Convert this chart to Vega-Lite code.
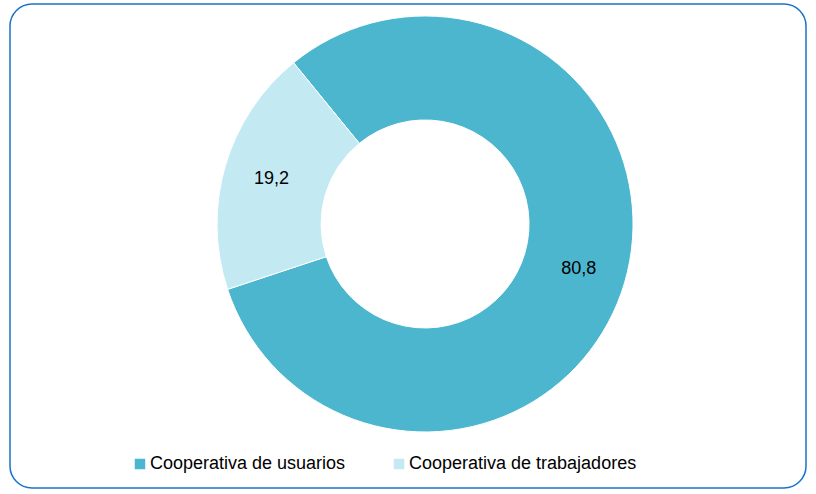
{
  "$schema": "https://vega.github.io/schema/vega-lite/v6.json",
  "width": 796,
  "height": 484,
  "autosize": {"type": "none"},
  "padding": {"left": 10, "top": 4, "right": 10, "bottom": 6},
  "background": "white",
  "config": {
    "view": {"stroke": "#1A73C8", "strokeWidth": 1.5, "cornerRadius": 22},
    "font": "Liberation Sans"
  },
  "data": {
    "values": [
      {"tipo": "Cooperativa de usuarios", "valor": 80.8, "etiqueta": "80,8", "orden": 1},
      {"tipo": "Cooperativa de trabajadores", "valor": 19.2, "etiqueta": "19,2", "orden": 2}
    ]
  },
  "encoding": {
    "theta": {"field": "valor", "type": "quantitative", "stack": true, "scale": {"range": [-0.684, 5.599]}},
    "order": {"field": "orden", "type": "quantitative"},
    "x": {"datum": 0.5214, "type": "quantitative", "scale": {"domain": [0, 1]}, "axis": null},
    "y": {"datum": 0.5455, "type": "quantitative", "scale": {"domain": [0, 1]}, "axis": null}
  },
  "layer": [
    {
      "mark": {"type": "arc", "outerRadius": 208, "innerRadius": 104, "stroke": "#ffffff", "strokeWidth": 1},
      "encoding": {
        "color": {
          "field": "tipo",
          "type": "nominal",
          "scale": {
            "domain": ["Cooperativa de usuarios", "Cooperativa de trabajadores"],
            "range": ["#4DB6CF", "#C3E9F3"]
          },
          "legend": {
            "orient": "none",
            "legendX": 121,
            "legendY": 451,
            "direction": "horizontal",
            "title": null,
            "symbolType": "square",
            "symbolSize": 110,
            "symbolStrokeWidth": 0,
            "labelFontSize": 18,
            "labelColor": "#000000",
            "labelOffset": 1,
            "labelLimit": 400,
            "columnPadding": 44
          }
        }
      }
    },
    {
      "mark": {"type": "text", "radius": 160, "fontSize": 18, "color": "#000000"},
      "encoding": {"text": {"field": "etiqueta", "type": "nominal"}}
    }
  ]
}
